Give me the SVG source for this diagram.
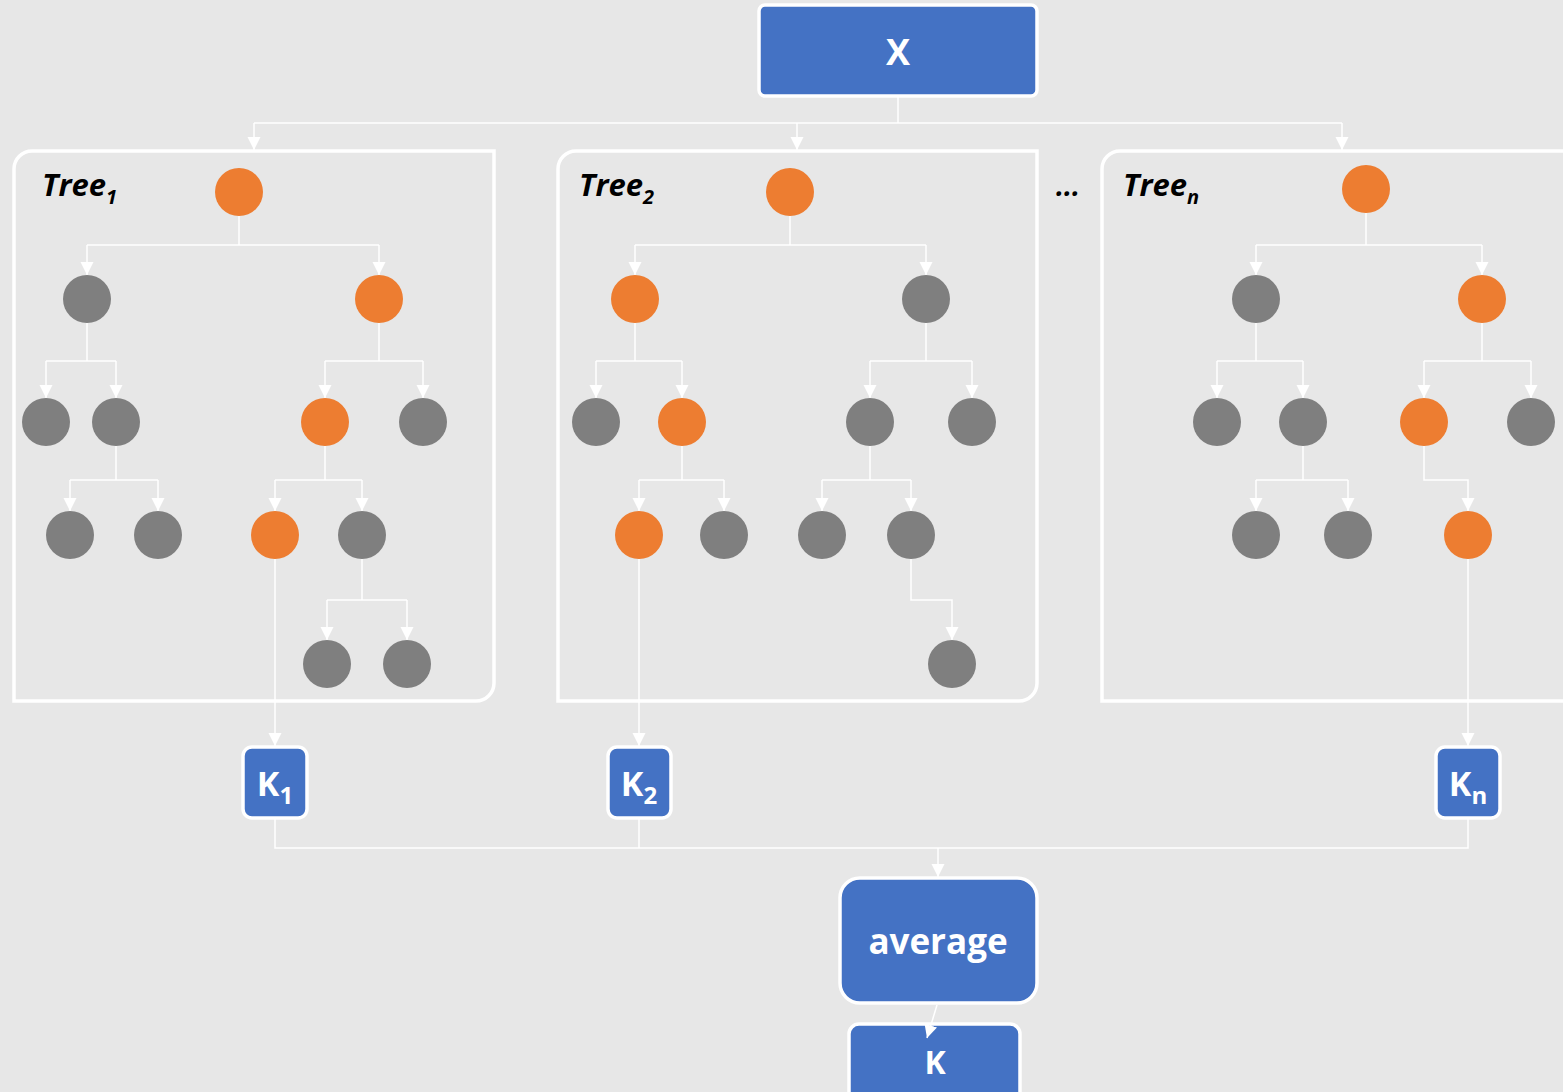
<svg xmlns="http://www.w3.org/2000/svg" width="1563" height="1092" viewBox="0 0 1563 1092">
<defs>
<marker id="ah" markerUnits="userSpaceOnUse" markerWidth="14" markerHeight="14" refX="13" refY="6.5" orient="auto">
<path d="M0,0 L13,6.5 L0,13 z" fill="#fff"/>
</marker>
<style>
.bg{fill:#e7e7e7}
.box{fill:#4472c4;stroke:#fff;stroke-width:3.5}
.frame{fill:none;stroke:#fff;stroke-width:3.5}
.c{fill:none;stroke:#fff;stroke-width:1.5}
.a{fill:none;stroke:#fff;stroke-width:1.5;marker-end:url(#ah)}
.o{fill:#ed7d31}
.g{fill:#7f7f7f}
.t{font-family:"Open Sans","Liberation Sans",sans-serif;font-weight:bold;fill:#fff;text-anchor:middle}
.lbl{font-family:"Open Sans","Liberation Sans",sans-serif;font-weight:bold;font-style:italic;fill:#000}
</style>
</defs>
<rect class="bg" x="0" y="0" width="1563" height="1092"/>

<g id="frames">
<path id="tree1-frame" class="frame" d="M14,701 L14,169 A18,18 0 0 1 32,151 L494,151 L494,683 A18,18 0 0 1 476,701 Z"/>
<path id="tree2-frame" class="frame" d="M558,701 L558,169 A18,18 0 0 1 576,151 L1037,151 L1037,683 A18,18 0 0 1 1019,701 Z"/>
<path id="treen-frame" class="frame" d="M1102,701 L1102,169 A18,18 0 0 1 1120,151 L1600,151 L1600,701 Z"/>
</g>

<g id="node-x"><rect class="box" x="759" y="5" width="278" height="91" rx="6"/><text class="t" x="898" y="65" font-size="36">X</text></g>

<g id="tree1">
<text class="lbl" x="42" y="196" font-size="31">Tree<tspan font-size="20" dy="8">1</tspan></text>
<circle class="o" cx="239" cy="192" r="24"/>
<circle class="g" cx="87" cy="299" r="24"/>
<circle class="o" cx="379" cy="299" r="24"/>
<circle class="g" cx="46" cy="422" r="24"/>
<circle class="g" cx="116" cy="422" r="24"/>
<circle class="o" cx="325" cy="422" r="24"/>
<circle class="g" cx="423" cy="422" r="24"/>
<circle class="g" cx="70" cy="535" r="24"/>
<circle class="g" cx="158" cy="535" r="24"/>
<circle class="o" cx="275" cy="535" r="24"/>
<circle class="g" cx="362" cy="535" r="24"/>
<circle class="g" cx="327" cy="664" r="24"/>
<circle class="g" cx="407" cy="664" r="24"/>
</g>

<g id="tree2">
<text class="lbl" x="579" y="196" font-size="31">Tree<tspan font-size="20" dy="8">2</tspan></text>
<circle class="o" cx="790" cy="192" r="24"/>
<circle class="o" cx="635" cy="299" r="24"/>
<circle class="g" cx="926" cy="299" r="24"/>
<circle class="g" cx="596" cy="422" r="24"/>
<circle class="o" cx="682" cy="422" r="24"/>
<circle class="g" cx="870" cy="422" r="24"/>
<circle class="g" cx="972" cy="422" r="24"/>
<circle class="o" cx="639" cy="535" r="24"/>
<circle class="g" cx="724" cy="535" r="24"/>
<circle class="g" cx="822" cy="535" r="24"/>
<circle class="g" cx="911" cy="535" r="24"/>
<circle class="g" cx="952" cy="664" r="24"/>
</g>

<g id="dots"><text class="lbl" x="1068" y="196" font-size="28" font-style="normal" text-anchor="middle">...</text></g>

<g id="treen">
<text class="lbl" x="1123" y="196" font-size="31">Tree<tspan font-size="20" dy="8">n</tspan></text>
<circle class="o" cx="1366" cy="189" r="24"/>
<circle class="g" cx="1256" cy="299" r="24"/>
<circle class="o" cx="1482" cy="299" r="24"/>
<circle class="g" cx="1217" cy="422" r="24"/>
<circle class="g" cx="1303" cy="422" r="24"/>
<circle class="o" cx="1424" cy="422" r="24"/>
<circle class="g" cx="1531" cy="422" r="24"/>
<circle class="g" cx="1256" cy="535" r="24"/>
<circle class="g" cx="1348" cy="535" r="24"/>
<circle class="o" cx="1468" cy="535" r="24"/>
</g>

<g id="node-k1"><rect class="box" x="243" y="747" width="64" height="71" rx="9"/><text class="t" x="275" y="796" font-size="34">K<tspan font-size="24" dy="8">1</tspan></text></g>
<g id="node-k2"><rect class="box" x="608" y="747" width="63" height="71" rx="9"/><text class="t" x="639" y="796" font-size="34">K<tspan font-size="24" dy="8">2</tspan></text></g>
<g id="node-kn"><rect class="box" x="1436" y="747" width="64" height="71" rx="9"/><text class="t" x="1468" y="796" font-size="34">K<tspan font-size="24" dy="8">n</tspan></text></g>

<g id="node-average"><rect class="box" x="840" y="878" width="197" height="125" rx="20"/><text class="t" x="938" y="954" font-size="35">average</text></g>
<g id="node-k"><rect class="box" x="849" y="1024" width="171" height="90" rx="10"/><text class="t" x="935" y="1074" font-size="32">K</text></g>

<g id="connectors">
<path class="c" d="M898,96 L898,123 M254,123 L1342,123"/>
<path class="a" d="M254,123 L254,150"/>
<path class="a" d="M797,123 L797,150"/>
<path class="a" d="M1342,123 L1342,150"/>

<path class="c" d="M239,216 L239,245 M87,245 L379,245"/>
<path class="a" d="M87,245 L87,275"/>
<path class="a" d="M379,245 L379,275"/>
<path class="c" d="M87,323 L87,361 M46,361 L116,361"/>
<path class="a" d="M46,361 L46,398"/>
<path class="a" d="M116,361 L116,398"/>
<path class="c" d="M379,323 L379,361 M325,361 L423,361"/>
<path class="a" d="M325,361 L325,398"/>
<path class="a" d="M423,361 L423,398"/>
<path class="c" d="M116,446 L116,480 M70,480 L158,480"/>
<path class="a" d="M70,480 L70,511"/>
<path class="a" d="M158,480 L158,511"/>
<path class="c" d="M325,446 L325,480 M275,480 L362,480"/>
<path class="a" d="M275,480 L275,511"/>
<path class="a" d="M362,480 L362,511"/>
<path class="c" d="M362,559 L362,600 M327,600 L407,600"/>
<path class="a" d="M327,600 L327,640"/>
<path class="a" d="M407,600 L407,640"/>
<path class="a" d="M275,559 L275,746"/>

<path class="c" d="M790,216 L790,245 M635,245 L926,245"/>
<path class="a" d="M635,245 L635,275"/>
<path class="a" d="M926,245 L926,275"/>
<path class="c" d="M635,323 L635,361 M596,361 L682,361"/>
<path class="a" d="M596,361 L596,398"/>
<path class="a" d="M682,361 L682,398"/>
<path class="c" d="M926,323 L926,361 M870,361 L972,361"/>
<path class="a" d="M870,361 L870,398"/>
<path class="a" d="M972,361 L972,398"/>
<path class="c" d="M682,446 L682,480 M639,480 L724,480"/>
<path class="a" d="M639,480 L639,511"/>
<path class="a" d="M724,480 L724,511"/>
<path class="c" d="M870,446 L870,480 M822,480 L911,480"/>
<path class="a" d="M822,480 L822,511"/>
<path class="a" d="M911,480 L911,511"/>
<path class="a" d="M911,559 L911,600 L952,600 L952,640"/>
<path class="a" d="M639,559 L639,746"/>

<path class="c" d="M1366,213 L1366,245 M1256,245 L1482,245"/>
<path class="a" d="M1256,245 L1256,275"/>
<path class="a" d="M1482,245 L1482,275"/>
<path class="c" d="M1256,323 L1256,361 M1217,361 L1303,361"/>
<path class="a" d="M1217,361 L1217,398"/>
<path class="a" d="M1303,361 L1303,398"/>
<path class="c" d="M1482,323 L1482,361 M1424,361 L1531,361"/>
<path class="a" d="M1424,361 L1424,398"/>
<path class="a" d="M1531,361 L1531,398"/>
<path class="c" d="M1303,446 L1303,480 M1256,480 L1348,480"/>
<path class="a" d="M1256,480 L1256,511"/>
<path class="a" d="M1348,480 L1348,511"/>
<path class="a" d="M1424,446 L1424,480 L1468,480 L1468,511"/>
<path class="a" d="M1468,559 L1468,746"/>

<path class="c" d="M275,819 L275,848 L1468,848 L1468,819 M639,819 L639,848"/>
<path class="a" d="M938,848 L938,877"/>
<path class="a" d="M937,1005 L927,1038"/>
</g>
</svg>
